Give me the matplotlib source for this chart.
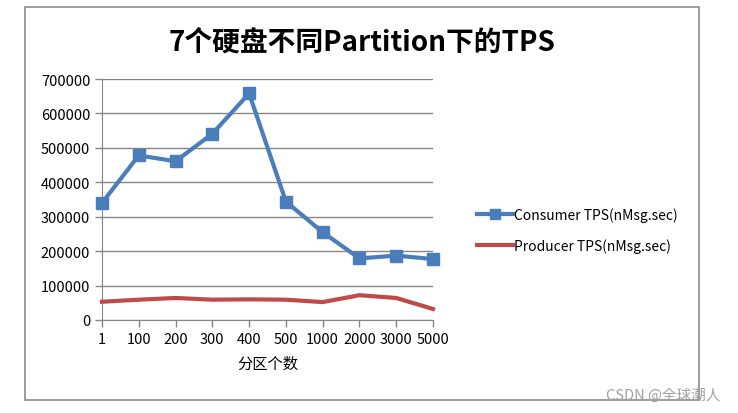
import matplotlib
matplotlib.use("Agg")
import matplotlib.pyplot as plt
from matplotlib.patches import Rectangle

plt.rcParams['font.family'] = ['Noto Sans CJK SC', 'DejaVu Sans']

# data
partitions = ['1', '100', '200', '300', '400', '500', '1000', '2000', '3000', '5000']
consumer_tps = [340000, 478000, 461000, 541000, 658000, 344000, 255000, 179000, 187000, 177000]
producer_tps = [53000, 59000, 64000, 59000, 60000, 59000, 52000, 72000, 64000, 32000]
y_ticks = [0, 100000, 200000, 300000, 400000, 500000, 600000, 700000]

W, H = 738, 414
fig = plt.figure(figsize=(W / 100, H / 100), dpi=100)

# chart frame like the excel chart area
fig.patches.append(Rectangle((24.5 / W, 1 - 400.5 / H), (698.5 - 24.5) / W, (400.5 - 7.5) / H,
                             transform=fig.transFigure, fill=False, edgecolor='#8c8c8c', lw=1.2))

ax = fig.add_axes([102 / W, 1 - 321 / H, (433 - 102) / W, (321 - 80) / H])

x = list(range(len(partitions)))
ax.plot(x, consumer_tps, color='#4a7ebb', lw=3, marker='s', markersize=8,
        label='Consumer TPS(nMsg.sec)', clip_on=False, zorder=4)
ax.plot(x, producer_tps, color='#be4b48', lw=3, label='Producer TPS(nMsg.sec)',
        clip_on=False, zorder=3)

ax.set_xlim(0, len(partitions) - 1)
ax.set_ylim(0, 700000)
ax.set_xticks(x)
ax.set_xticklabels(partitions)
ax.set_yticks(y_ticks)
ax.set_yticklabels([str(v) for v in y_ticks])
ax.tick_params(axis='both', labelsize=10.5, color='#868686', length=5, width=1)
ax.tick_params(axis='x', pad=4)
ax.grid(axis='y', color='#868686', lw=1)
ax.set_axisbelow(True)
for s in ['top', 'right']:
    ax.spines[s].set_visible(False)
ax.spines['left'].set_color('#868686')
ax.spines['bottom'].set_color('#868686')

ax.set_xlabel('分区个数', fontsize=11, labelpad=6)

fig.text(362 / W, 1 - 43 / H, '7个硬盘不同Partition下的TPS',
         fontsize=20, fontweight='bold', ha='center', va='center')

ax.legend(loc='center left', bbox_to_anchor=(464 / W, 1 - 231 / H), bbox_transform=fig.transFigure,
          frameon=False, fontsize=10, handlelength=2.6, handletextpad=0.1, labelspacing=1.2,
          markerscale=0.9)

fig.text(720 / W, 1 - 396 / H, 'CSDN @全球潮人', fontsize=10.5, color='#a0a0a0',
         ha='right', va='center')

fig.savefig('out.png', dpi=100)
